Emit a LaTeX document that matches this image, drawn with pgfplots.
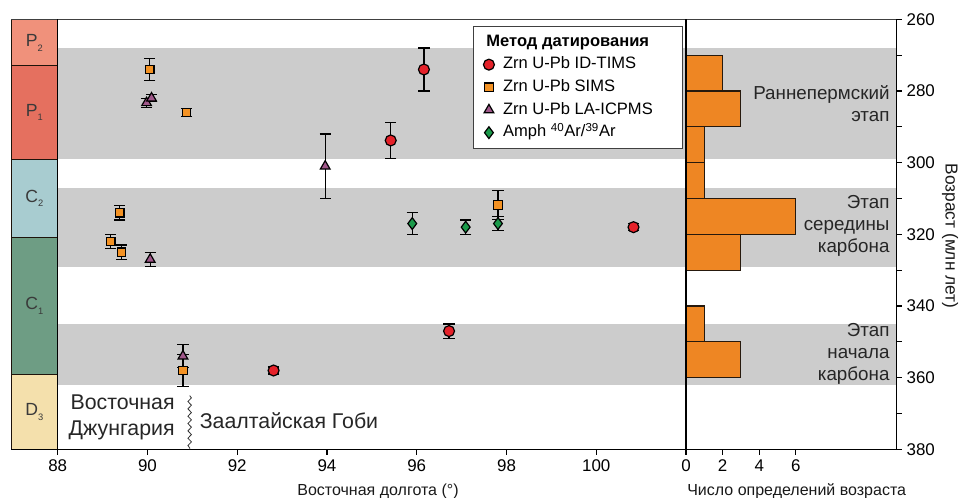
\documentclass[border=0pt]{standalone}
\usepackage{fontspec}
\setmainfont{Liberation Sans}
\usepackage{pgfplots}
\pgfplotsset{compat=1.18}
\usetikzlibrary{decorations.pathmorphing}
\definecolor{Ptwo}{HTML}{F0917B}
\definecolor{Pone}{HTML}{E5705F}
\definecolor{Ctwo}{HTML}{A8CCD0}
\definecolor{Cone}{HTML}{6E9D84}
\definecolor{Dthree}{HTML}{F4E0AC}
\definecolor{striptxt}{HTML}{3A3A3A}
\definecolor{bandgray}{HTML}{CCCCCC}
\definecolor{timsred}{HTML}{E5222A}
\definecolor{simsor}{HTML}{F39224}
\definecolor{lamauve}{HTML}{A0588A}
\definecolor{amphgr}{HTML}{1B9A4A}
\definecolor{histor}{HTML}{EE8623}
\newcommand{\sub}[1]{\raisebox{-3.5pt}{\fontsize{7}{7}\selectfont #1}}
\begin{document}
\begin{tikzpicture}
\path[use as bounding box] (0pt,0pt) rectangle (719.25pt,373.5pt);
% ---------------- main axis ----------------
\begin{axis}[
  at={(43.3pt,36.5pt)}, anchor=south west,
  scale only axis, width=471.2pt, height=322.5pt,
  xmin=88, xmax=102, ymin=260, ymax=380, y dir=reverse,
  clip=false, axis on top,
  axis line style={draw=none},
  xtick={88,90,...,100}, xtick pos=bottom, ytick=\empty,
  tick align=outside, major tick length=4pt,
  tick style={black, line width=0.9pt},
  tick label style={font=\fontsize{12.7}{14}\selectfont},
  /pgf/number format/assume math mode=true,
  legend style={at={(axis description cs:0.661,0.985)}, anchor=north west,
    draw=black!75, line width=0.8pt, font=\fontsize{12.4}{15}\selectfont,
    nodes={inner ysep=0pt, text height=9.3pt, text depth=3pt},
    row sep=4.7pt, column sep=4.5pt, inner xsep=3pt, inner ysep=5.6pt, cells={anchor=west}},
]
% bands
\fill[bandgray] (axis cs:88,268) rectangle (axis cs:102,299);
\fill[bandgray] (axis cs:88,307) rectangle (axis cs:102,329);
\fill[bandgray] (axis cs:88,345) rectangle (axis cs:102,362);
% strip
\fill[Ptwo] (axis cs:86.962,260) rectangle (axis cs:88,273);
\fill[Pone] (axis cs:86.962,273) rectangle (axis cs:88,299);
\fill[Ctwo] (axis cs:86.962,299) rectangle (axis cs:88,321);
\fill[Cone] (axis cs:86.962,321) rectangle (axis cs:88,359);
\fill[Dthree] (axis cs:86.962,359) rectangle (axis cs:88,380);
\draw[black!85!brown, line width=0.7pt] (axis cs:86.962,273) -- (axis cs:88,273)
  (axis cs:86.962,299) -- (axis cs:88,299)
  (axis cs:86.962,321) -- (axis cs:88,321)
  (axis cs:86.962,359) -- (axis cs:88,359);
\draw[black!85!brown, line width=0.7pt] (axis cs:86.962,260) -- (axis cs:86.962,380);
\draw[black!75, line width=0.6pt] (axis cs:86.962,260) -- (axis cs:102,260);
\draw[black, line width=1pt] (axis cs:86.962,380) -- (axis cs:102,380);
\draw[black, line width=1pt] (axis cs:88,260) -- (axis cs:88,380);
\draw[black, line width=1pt] (axis cs:102,260) -- (axis cs:102,380);
\begin{scope}[every node/.style={text=striptxt, font=\fontsize{13.2}{14}\selectfont}]
\node at (axis cs:87.481,266.5) {P\sub{2}};
\node at (axis cs:87.481,286) {P\sub{1}};
\node at (axis cs:87.481,310) {C\sub{2}};
\node at (axis cs:87.481,340) {C\sub{1}};
\node at (axis cs:87.481,369.5) {D\sub{3}};
\end{scope}
% region texts
\node[anchor=east, align=right, font=\fontsize{16}{19}\selectfont, text=black!85, inner sep=0pt] at (axis cs:90.61,371.1) {Восточная\\Джунгария};
\node[anchor=west, font=\fontsize{16}{19}\selectfont, text=black!85, inner sep=0pt] at (axis cs:91.16,372.1) {Заалтайская Гоби};
\draw[black!80, line width=0.6pt, decorate, decoration={snake, amplitude=1.3pt, segment length=5.5pt}] (axis cs:90.94,365) -- (axis cs:90.94,380);
% legend title
\addlegendimage{empty legend}
\addlegendentry{\hspace*{-12.5pt}\makebox[141.8pt][l]{\textbf{Метод датирования}}}
% data
\addplot[only marks, mark=*, mark size=4.1pt, draw=black, fill=timsred, line width=0.9pt,
  error bars/.cd, y dir=both, y explicit,
  error bar style={black, line width=0.9pt},
  error mark options={rotate=90, mark size=4.2pt, line width=0.9pt, black}]
  coordinates {
  (96.16,274) +- (0,6)
  (95.42,293.8) +- (0,5)
  (100.83,318) +- (0,1)
  (96.72,347) +- (0,2)
  (92.81,358) +- (0,1)
  };
\addlegendentry{Zrn U-Pb ID-TIMS}
\addplot[only marks, mark=square*, mark size=3.2pt, draw=black, fill=simsor, line width=0.9pt,
  error bars/.cd, y dir=both, y explicit,
  error bar style={black, line width=0.9pt},
  error mark options={rotate=90, mark size=4.2pt, line width=0.9pt, black}]
  coordinates {
  (90.05,274) +- (0,3)
  (90.87,286) +- (0,1.2)
  (89.38,314) +- (0,2)
  (89.18,322) +- (0,2)
  (89.42,325) +- (0,2)
  (97.81,311.8) +- (0,4)
  (90.79,358) +- (0,4.5)
  };
\addlegendentry{Zrn U-Pb SIMS}
\addplot[only marks, mark=triangle*, mark size=4.2pt, draw=black, fill=lamauve, line width=0.9pt,
  error bars/.cd, y dir=both, y explicit,
  error bar style={black, line width=0.9pt},
  error mark options={rotate=90, mark size=4.2pt, line width=0.9pt, black}]
  coordinates {
  (89.98,283.3) +- (0,1.2)
  (90.09,282) +- (0,1)
  (93.96,301) +- (0,9)
  (90.06,327) +- (0,2)
  (90.79,354) +- (0,3.2)
  };
\addlegendentry{Zrn U-Pb LA-ICPMS}
\addplot[only marks, mark=diamond*, mark size=4.4pt, draw=black, fill=amphgr, line width=0.9pt,
  error bars/.cd, y dir=both, y explicit,
  error bar style={black, line width=0.9pt},
  error mark options={rotate=90, mark size=4.2pt, line width=0.9pt, black}]
  coordinates {
  (95.90,317) +- (0,3)
  (97.09,318) +- (0,2)
  (97.81,317) +- (0,2)
  };
\addlegendentry{Amph \textsuperscript{40}Ar/\textsuperscript{39}Ar}
\end{axis}
% ---------------- histogram axis ----------------
\begin{axis}[
  at={(514.5pt,36.5pt)}, anchor=south west,
  scale only axis, width=157.9pt, height=322.5pt,
  xmin=0, xmax=11.5, ymin=260, ymax=380, y dir=reverse,
  clip=false, axis on top,
  axis line style={draw=none},
  xtick={0,2,4,6}, xtick pos=bottom,
  ytick={260,280,...,380}, minor ytick={270,290,...,370},
  ytick pos=right, yticklabel pos=right,
  tick align=outside, major tick length=4pt, minor tick length=4pt,
  tick style={black, line width=0.9pt},
  tick label style={font=\fontsize{12.7}{14}\selectfont},
  /pgf/number format/assume math mode=true,
]
\fill[bandgray] (axis cs:0,268) rectangle (axis cs:11.5,299);
\fill[bandgray] (axis cs:0,307) rectangle (axis cs:11.5,329);
\fill[bandgray] (axis cs:0,345) rectangle (axis cs:11.5,362);
\addplot[xbar interval, fill=histor, draw=black!80!brown, line width=0.8pt]
  coordinates {(2,270) (3,280) (1,290) (1,300) (6,310) (3,320) (0,330) (1,340) (3,350) (0,360)};
\draw[black!75, line width=0.6pt] (axis cs:0,260) -- (axis cs:11.5,260);
\draw[black, line width=1pt] (axis cs:0,380) -- (axis cs:11.5,380);
\draw[black, line width=1pt] (axis cs:11.5,260) -- (axis cs:11.5,380);
\draw[black, line width=1pt] (axis cs:0,260) -- (axis cs:0,380);
\begin{scope}[every node/.style={anchor=east, align=right, font=\fontsize{14.1}{16.4}\selectfont, text=black!85, inner sep=0pt}]
\node at (axis cs:11.13,283.6) {Раннепермский\\этап};
\node at (axis cs:11.13,317.7) {Этап\\середины\\карбона};
\node at (axis cs:11.13,353.3) {Этап\\начала\\карбона};
\end{scope}
\end{axis}
% axis labels
\node[font=\fontsize{12}{14}\selectfont, text=black!90] at (283.5pt,4.8pt) {Восточная долгота (°)};
\node[font=\fontsize{12}{14}\selectfont, text=black!90] at (597.5pt,4.8pt) {Число определений возраста};
\node[font=\fontsize{13}{15}\selectfont, text=black!90, rotate=-90] at (712.5pt,196.5pt) {Возраст (млн лет)};
\end{tikzpicture}
\end{document}
